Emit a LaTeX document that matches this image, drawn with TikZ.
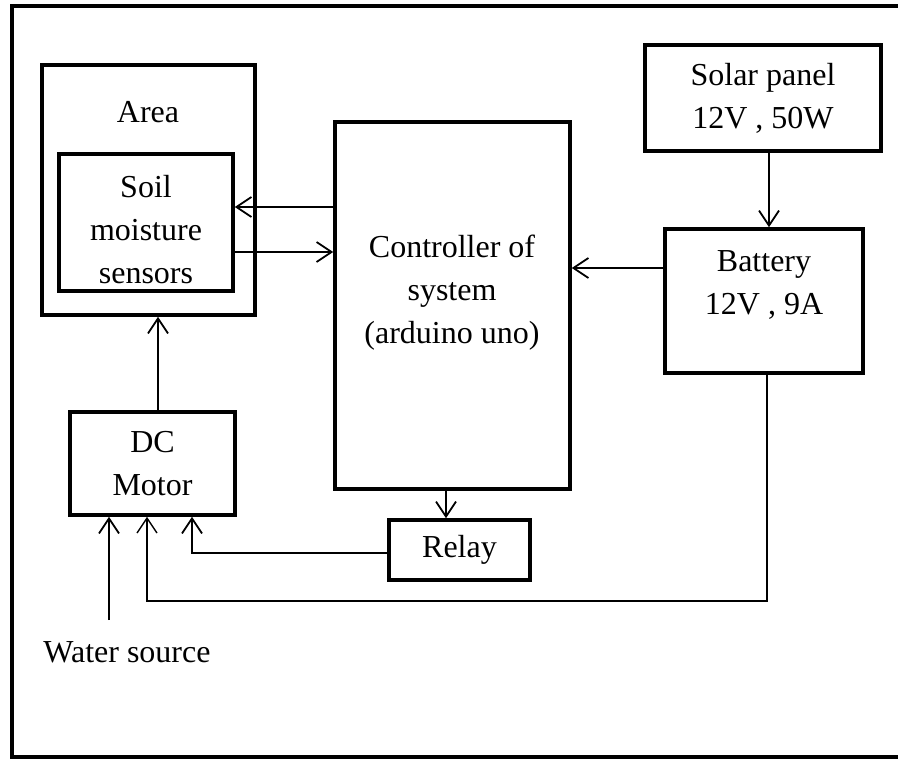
\documentclass[tikz,border=0pt]{standalone}
\usepackage{fontspec}
\setmainfont{Liberation Serif}
\usetikzlibrary{arrows.meta}

\begin{document}
\begin{tikzpicture}[x=0.5pt, y=-0.5pt,
    box/.style={draw, line width=1.8pt, inner sep=0pt},
    txt/.style={align=center, font=\fontsize{16}{21.5}\selectfont},
    arr/.style={-{Straight Barb[length=7.5pt, width=10pt]}, line width=0.9pt}]
    \useasboundingbox (0,0) rectangle (898,759);
    \draw[line width=2.4pt] (12,6) rectangle (920,757);
    \node[box, minimum width=106.5pt, minimum height=125pt] (area) at (148.5,190) {};
    \node[txt] (areatxt) at (148,112) {Area};
    \node[box, minimum width=87pt, minimum height=68.5pt] (soil) at (146,222.5) {};
    \node[txt] (soiltxt) at (146,230) {Soil\\moisture\\sensors};
    \node[box, minimum width=117.5pt, minimum height=183.5pt] (ctrl) at (452.5,305.5) {};
    \node[txt] (ctrltxt) at (452,293) {Controller of\\system\\(arduino uno)};
    \node[box, txt, minimum width=118pt, minimum height=53pt] (solar) at (763,98) {Solar panel\\12V , 50W};
    \node[box, minimum width=99pt, minimum height=72pt] (batt) at (764,301) {};
    \node[txt] (batttxt) at (764,285) {Battery\\12V , 9A};
    \node[box, txt, minimum width=82.5pt, minimum height=51.5pt] (motor) at (152.5,463.5) {DC\\Motor};
    \node[box, txt, minimum width=70.5pt, minimum height=30pt] (relay) at (459.5,550) {Relay};
    \node[txt] (water) at (127,652) {Water source};
    \coordinate (wsrc) at (109,620);

    \draw[arr] (ctrl.west |- 0,207) -- (soil.east |- 0,207);
    \draw[arr] (soil.east |- 0,252) -- (ctrl.west |- 0,252);
    \draw[arr] (batt.west |- 0,268) -- (ctrl.east |- 0,268);
    \draw[arr] (solar.south -| 769,0) -- (batt.north -| 769,0);
    \draw[arr] (ctrl.south -| 446,0) -- (relay.north -| 446,0);
    \draw[arr] (motor.north -| 158,0) -- (area.south -| 158,0);
    \draw[arr] (relay.west |- 0,553) -| (motor.south -| 192,0);
    \draw[arr, line width=0.7pt] (batt.south -| 767,0) |- (147,601) -- (motor.south -| 147,0);
    \draw[arr] (wsrc) -- (motor.south -| wsrc);
\end{tikzpicture}
\end{document}
